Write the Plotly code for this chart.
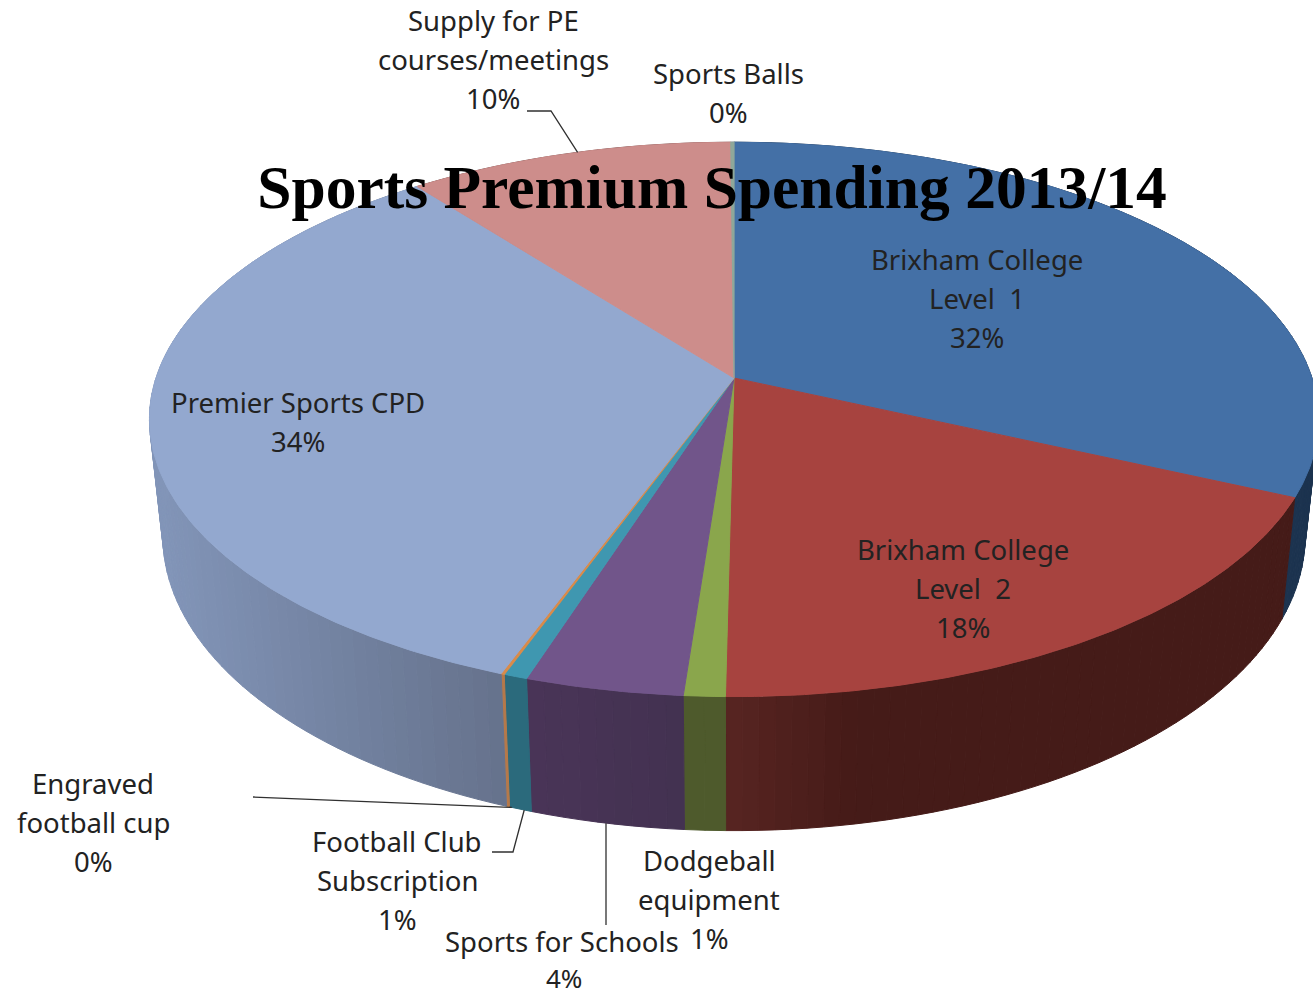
import numpy as np
import plotly.graph_objects as go

# ---- data ----
categories = ["Brixham College<br>Level  1", "Brixham College<br>Level  2", "Dodgeball<br>equipment",
              "Sports for Schools", "Football Club<br>Subscription", "Engraved<br>football cup",
              "Premier Sports CPD", "Supply for PE<br>courses/meetings", "Sports Balls"]
values = [31.8, 18.4, 0.99, 3.79, 0.57, 0.08, 33.87, 10.4, 0.1]

# ---- styles ----
top_colors = ["#4470a6", "#a7433f", "#8aa64c", "#71558a", "#3f97b0", "#d98b4a", "#93a8cf", "#cd8d8b", "#8fa89a"]
side_colors = [("#1c334f", "#1c334f"), ("#582522", "#451b18"), ("#4e5a2c", "#4e5a2c"), ("#4a3558", "#433251"),
               ("#2b6a7c", "#2b6a7c"), ("#b5794a", "#b5794a"), ("#8295b8", "#66728c"), ("#7a4f4d", "#7a4f4d"), ("#556", "#556")]
side_ranges = [(0, 1), (726, 860), (0, 1), (527, 685), (0, 1), (0, 1), (160, 505), (0, 1), (0, 1)]
label_pos = [(977, 259), (963, 549), (709, 860), (562, 941), (397, 841), (93, 783), (298, 402), (493, 20), (728, 73)]
LINE_H = 39
LABEL_FONT = dict(family="Noto Sans", size=27.5, color="#222222")
LAST_LINE_FONT = dict(family="Noto Sans", size=26, color="#222222")
CX, CY, RX, RY, K = 734, 378, 578, 271, 0.1494   # projected centre, radii, perspective
DEPTH, SHRINK = 114, 0.977


def top_xy(frac):
    a = 2 * np.pi * np.asarray(frac, dtype=float)
    u, v = np.sin(a), np.cos(a)
    w = 1 + K * v
    return CX + RX * u / w, CY - RY * v / w


def low_xy(frac):
    a = 2 * np.pi * np.asarray(frac, dtype=float)
    x, y = top_xy(frac)
    return CX + SHRINK * (x - CX), y + DEPTH / (1 + K * np.cos(a))


def hex_rgb(h):
    h = h.lstrip("#")
    if len(h) == 3:
        h = "".join(c * 2 for c in h)
    return np.array([int(h[i:i + 2], 16) for i in (0, 2, 4)], float)


def poly(x, y, color, name, lw=1):
    return go.Scatter(x=x, y=y, mode="lines", fill="toself", fillcolor=color, name=name,
                      line=dict(color=color, width=lw), hoverinfo="name", showlegend=False)


total = sum(values)
edges = np.concatenate([[0], np.cumsum(values)]) / total
fig = go.Figure()

# walls
for i, name in enumerate(categories):
    f0, f1 = edges[i], edges[i + 1]
    n = max(1, int((f1 - f0) * 260))
    fs = np.linspace(f0, f1, n + 1)
    ca, cb = hex_rgb(side_colors[i][0]), hex_rgb(side_colors[i][1])
    x0r, x1r = side_ranges[i]
    for j in range(n):
        sub = np.linspace(fs[j], fs[j + 1], 4)
        tx, ty = top_xy(sub)
        lx, ly = low_xy(sub)
        t = np.clip((tx.mean() - x0r) / (x1r - x0r), 0, 1)
        c = ca + (cb - ca) * t
        col = "rgb(%d,%d,%d)" % tuple(c)
        fig.add_trace(poly(np.r_[tx, lx[::-1], tx[0]], np.r_[ty, ly[::-1], ty[0]], col, name.replace("<br>", " ")))

# top faces
for i, name in enumerate(categories):
    fs = np.linspace(edges[i], edges[i + 1], max(3, int(values[i] * 6)))
    x, y = top_xy(fs)
    fig.add_trace(poly(np.r_[CX, x, CX], np.r_[CY, y, CY], top_colors[i], name.replace("<br>", " "),
                       lw=1 if values[i] > 0.3 else 1.2))

# leader lines: elbow points from the layout, anchors from slice mid-angles (with a small nudge)
mids = (edges[:-1] + edges[1:]) / 2
leaders = [
    (7, [(527, 111), (551, 111)], top_xy, 0.003),
    (5, [(253, 797)], low_xy, -0.001),
    (4, [(492, 852), (513, 852)], low_xy, -0.001),
    (3, [(606, 925)], None, 0.0),
]
for idx, pts, fn, nudge in leaders:
    xs = [p[0] for p in pts]
    ys = [p[1] for p in pts]
    if fn is None:
        ax, ay = low_xy(mids[idx])
        xs.append(606)
        ys.append(float(ay))
    else:
        ax, ay = fn(mids[idx] + nudge)
        xs.append(float(ax))
        ys.append(float(ay))
    fig.add_trace(go.Scatter(x=xs, y=ys, mode="lines", line=dict(color="#303030", width=1.3),
                             hoverinfo="skip", showlegend=False))

# labels
annotations = []
for name, v, (lx, ly) in zip(categories, values, label_pos):
    lines = name.split("<br>") + ["%d%%" % round(v / total * 100)]
    for k, line in enumerate(lines):
        yy = ly + k * LINE_H
        font = LABEL_FONT
        xx = lx
        if yy > 975:  # keep the last line's box inside the page
            yy, font, xx = 977.5, LAST_LINE_FONT, lx + 2
        annotations.append(dict(x=xx, y=yy, text=line, showarrow=False, xref="x", yref="y",
                                xanchor="center", yanchor="middle", font=font))

fig.update_layout(
    width=1313, height=995, margin=dict(l=0, r=0, t=0, b=0),
    paper_bgcolor="white", plot_bgcolor="white", showlegend=False,
    title=dict(text="<b>Sports Premium Spending 2013/14</b>", x=712 / 1313, y=1 - 186 / 995,
               xanchor="center", yanchor="middle",
               font=dict(family="Liberation Serif", size=61.5, color="#000000")),
    xaxis=dict(range=[0, 1313], visible=False, fixedrange=True),
    yaxis=dict(range=[995, 0], visible=False, fixedrange=True),
    annotations=annotations,
)
fig.write_html("out.html", post_script="document.body.style.margin='0';",
               config=dict(displayModeBar=False))
